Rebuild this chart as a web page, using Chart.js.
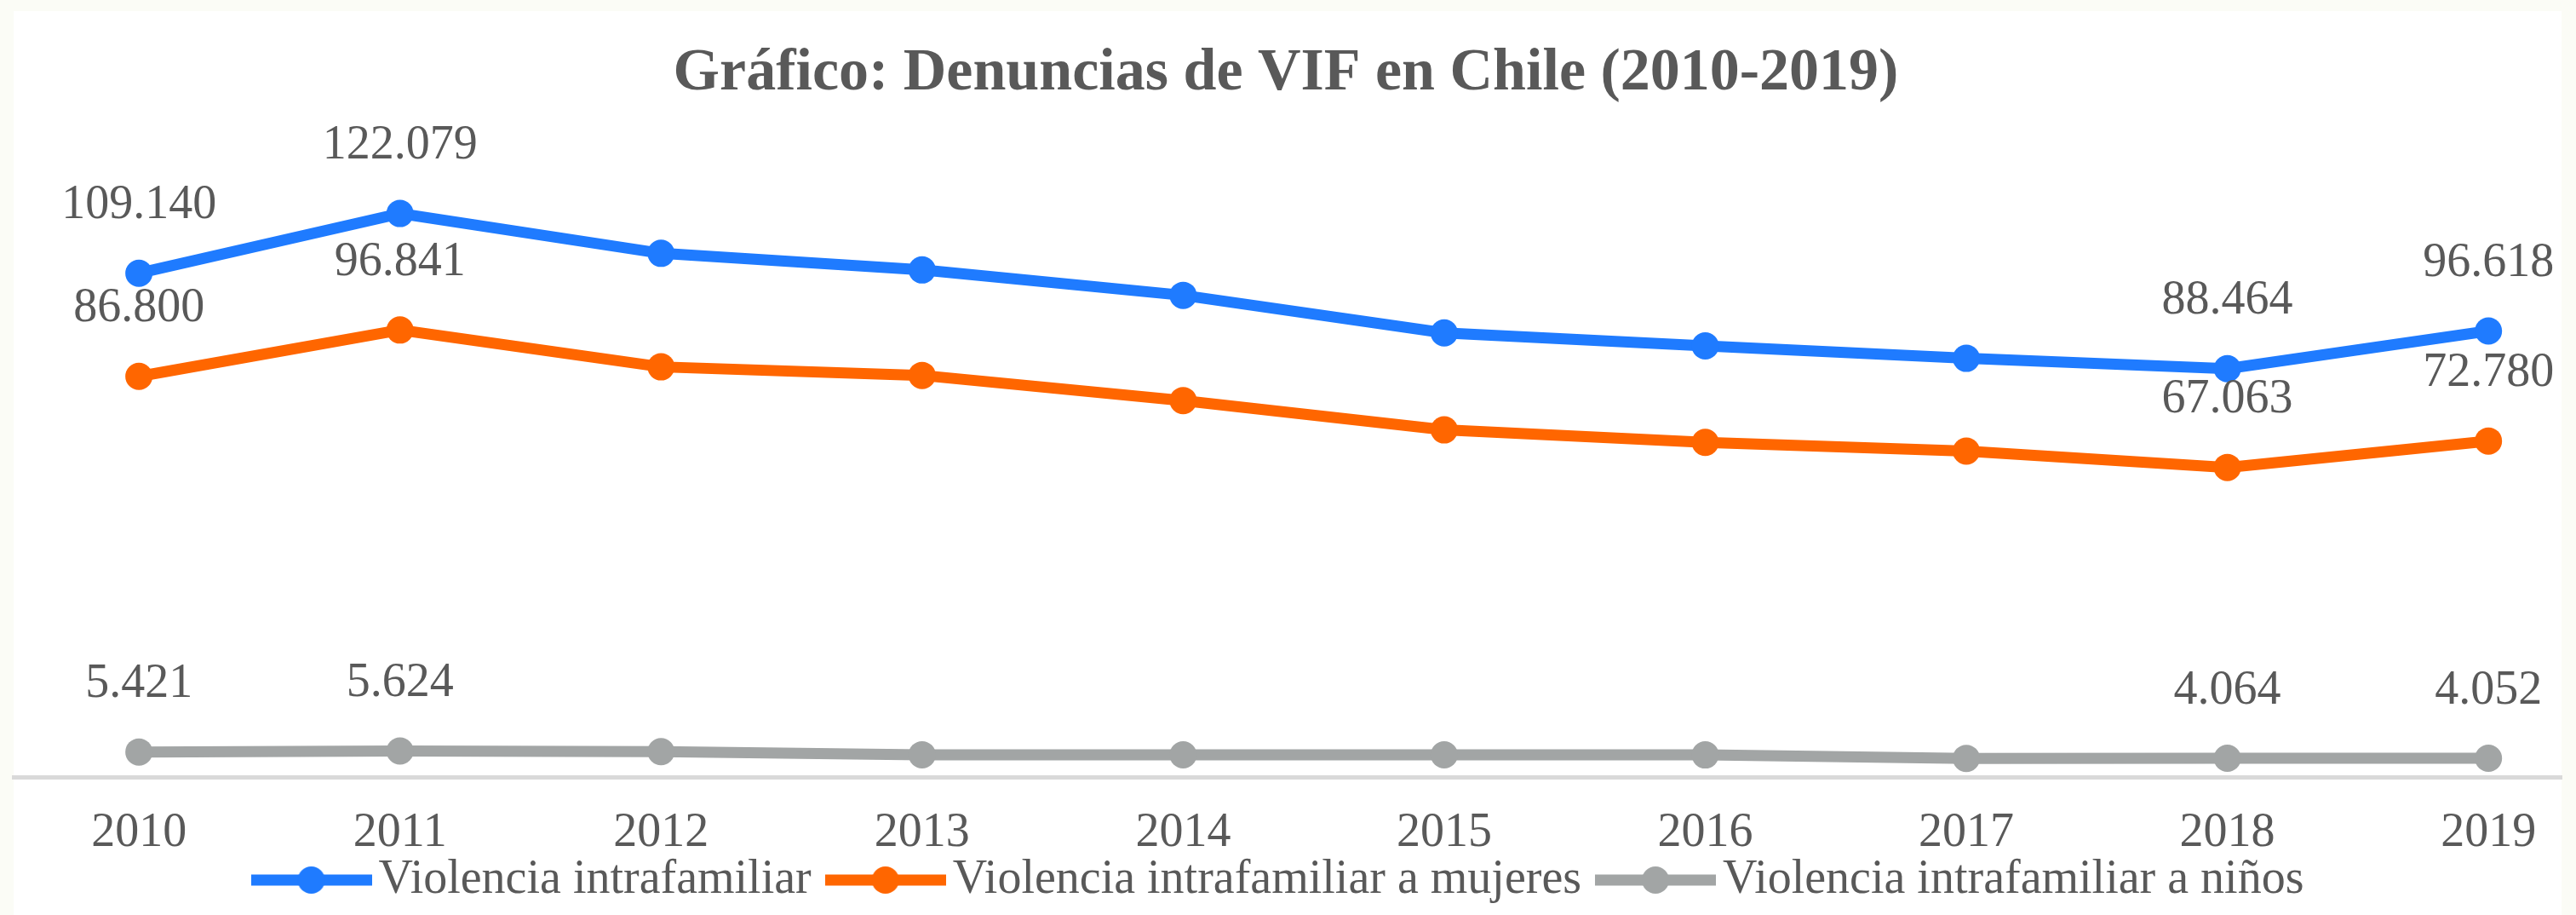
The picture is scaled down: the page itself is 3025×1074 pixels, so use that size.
<!DOCTYPE html>
<html lang="es">
<head>
<meta charset="utf-8">
<title>Denuncias de VIF en Chile</title>
<script src="https://cdn.jsdelivr.net/npm/chart.js@4.4.1/dist/chart.umd.min.js"></script>
<style>
  html, body { margin: 0; padding: 0; background: #fbfcf6; overflow: hidden; }
  canvas { display: block; }
</style>
</head>
<body>
<canvas id="vifChart" width="3025" height="1074"></canvas>
<script>
// DATA
const years = ["2010", "2011", "2012", "2013", "2014", "2015", "2016", "2017", "2018", "2019"];
const vif = [109140, 122079, 113450, 109850, 104350, 96200, 93400, 90700, 88464, 96618];
const vifMujeres = [86800, 96841, 88850, 87000, 81550, 75200, 72500, 70600, 67063, 72780];
const vifNinos = [5421, 5624, 5500, 4820, 4790, 4810, 4780, 4030, 4064, 4052];
const labelledYears = [0, 1, 8, 9];

const TEXT = "#595959";
const FONT = "'Liberation Serif', 'Times New Roman', serif";

const toPoints = arr => arr.map((y, x) => ({ x, y }));
const formatMiles = v => String(v).replace(/\B(?=(\d{3})+(?!\d))/g, ".");

// legend sample: thick line with a marker in the middle
function legendIcon(color) {
  const c = document.createElement("canvas");
  c.width = 142;
  c.height = 36;
  const g = c.getContext("2d");
  g.strokeStyle = color;
  g.lineWidth = 13;
  g.beginPath();
  g.moveTo(0, 18);
  g.lineTo(142, 18);
  g.stroke();
  g.fillStyle = color;
  g.beginPath();
  g.arc(71, 18, 16, 0, Math.PI * 2);
  g.fill();
  return c;
}

const colors = ["#1f7bff", "#ff6600", "#a2a5a5"];
const legendIcons = colors.map(legendIcon);

// off-white frame with white panel
const frame = {
  id: "frame",
  beforeDraw(chart) {
    const { ctx, chartArea, width, height } = chart;
    ctx.save();
    ctx.fillStyle = "#fbfcf6";
    ctx.fillRect(0, 0, width, height);
    ctx.fillStyle = "#ffffff";
    ctx.fillRect(chartArea.left, 13, chartArea.right - chartArea.left, height - 13);
    ctx.restore();
  }
};

// value labels above the first two and last two points
const dataLabels = {
  id: "dataLabels",
  afterDatasetsDraw(chart) {
    const ctx = chart.ctx;
    ctx.save();
    ctx.font = "56px " + FONT;
    ctx.fillStyle = TEXT;
    ctx.textAlign = "center";
    ctx.textBaseline = "middle";
    chart.data.datasets.forEach((ds, i) => {
      const meta = chart.getDatasetMeta(i);
      labelledYears.forEach(j => {
        const pt = meta.data[j];
        ctx.fillText(formatMiles(ds.data[j].y), pt.x, pt.y - 79);
      });
    });
    ctx.restore();
  }
};

function series(label, values, color) {
  return {
    label,
    data: toPoints(values),
    borderColor: color,
    backgroundColor: color,
    borderWidth: 13,
    pointRadius: 16,
    pointBorderWidth: 0,
    pointBackgroundColor: color,
    tension: 0
  };
}

new Chart(document.getElementById("vifChart"), {
  type: "line",
  data: {
    datasets: [
      series("Violencia intrafamiliar", vif, colors[0]),
      series("Violencia intrafamiliar a mujeres", vifMujeres, colors[1]),
      series("Violencia intrafamiliar a niños", vifNinos, colors[2])
    ]
  },
  options: {
    responsive: false,
    animation: false,
    layout: { padding: { top: 13, left: 12, right: 17, bottom: 3 } },
    scales: {
      x: {
        type: "linear",
        min: -0.48,
        max: 9.28,
        grid: { display: false, drawTicks: false },
        border: { display: true, color: "#d9d9d9", width: 5 },
        afterBuildTicks: s => { s.ticks = years.map((_, i) => ({ value: i })); },
        afterFit: s => { s.height = 57; },
        ticks: {
          mirror: true,
          padding: -100,
          color: TEXT,
          autoSkip: false,
          maxRotation: 0,
          font: { family: FONT, size: 56 },
          callback: v => years[v]
        }
      },
      y: { display: false, min: 0, max: 140000 }
    },
    plugins: {
      title: {
        display: true,
        text: "Gráfico: Denuncias de VIF en Chile (2010-2019)",
        color: TEXT,
        font: { family: FONT, size: 70, weight: "bold" },
        padding: { top: 31.5, bottom: 25 }
      },
      legend: {
        position: "bottom",
        labels: {
          usePointStyle: true,
          pointStyleWidth: 102,
          padding: 36,
          color: TEXT,
          font: { family: FONT, size: 56 },
          generateLabels(chart) {
            const items = Chart.defaults.plugins.legend.labels.generateLabels(chart);
            items.forEach((it, i) => { it.pointStyle = legendIcons[i]; });
            return items;
          }
        }
      },
      tooltip: { enabled: false }
    }
  },
  plugins: [frame, dataLabels]
});
</script>
</body>
</html>
